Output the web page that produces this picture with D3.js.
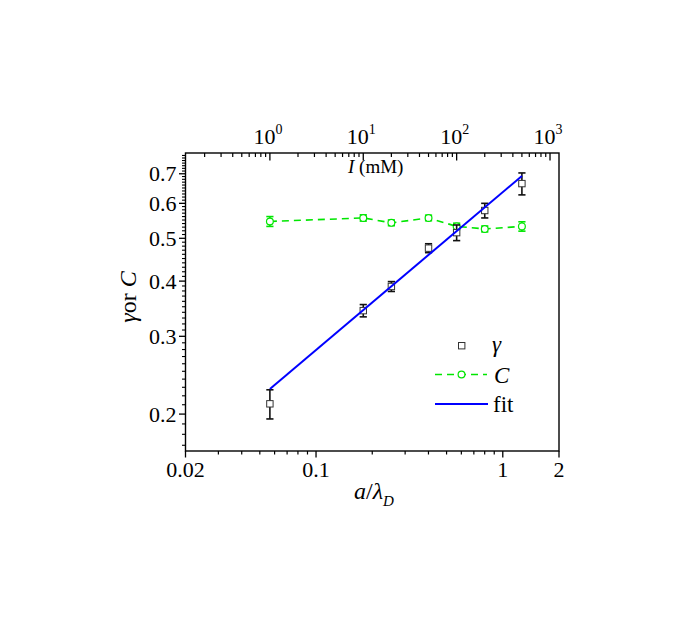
<!DOCTYPE html>
<html>
   <head>
      <script src="https://d3js.org/d3.v7.min.js"></script>
   </head>

   <style>
      body {
         margin: 0;
         background: white;
      }

      svg text {
         font-family: 'Liberation Serif', 'Times New Roman', serif;
         fill: black;
      }
   </style>
   <body>
      <svg id="chart" width="692" height="623"></svg>

      <script>
         // ionic strength (mM)
         let ionic = [1, 10, 20, 50, 100, 200, 500];
         let gammaVals = [0.211, 0.343, 0.389, 0.475, 0.515, 0.578, 0.665];
         let gammaErr = [0.016, 0.011, 0.010, 0.011, 0.021, 0.022, 0.038];
         let cVals = [0.546, 0.556, 0.542, 0.556, 0.532, 0.525, 0.532];
         let cErr = [0.014, 0.009, 0.008, 0.008, 0.009, 0.008, 0.013];

         // power law fit, end points
         let fitI = [1, 500];
         let fitVals = [0.228, 0.692];

         let bottomTicks = [0.02, 0.1, 1, 2];
         let topTicks = [1, 10, 100, 1000];
         let leftTicks = [0.2, 0.3, 0.4, 0.5, 0.6, 0.7];

         let xDomain = [0.02, 2];
         let yDomain = [0.165, 0.78];
         let kI = 312; // I (mM) = kI * (a/lambda_D)^2

         let pLeft = 185.5, pRight = 559, pTop = 153, pBottom = 451;
         let green = '#00e600';

         let svg = d3.select('#chart');

         let x = d3.scaleLog().domain(xDomain).range([pLeft, pRight]);
         let xTop = d3.scaleLog().domain(xDomain.map(d => kI * d * d)).range([pLeft, pRight]);
         let y = d3.scaleLog().domain(yDomain).range([pBottom, pTop]);

         // frame
         svg.append('rect')
            .attr('x', pLeft).attr('y', pTop)
            .attr('width', pRight - pLeft).attr('height', pBottom - pTop)
            .attr('fill', 'none').attr('stroke', '#000').attr('stroke-width', 1.4);

         // bottom axis, ticks outward
         let bottomMinor = [];
         [0.01, 0.1, 1].forEach(dec => d3.range(2, 10).forEach(m => {
            let v = dec * m;
            if (v > xDomain[0] && v < xDomain[1]) bottomMinor.push(v);
         }));
         svg.selectAll('.bminor').data(bottomMinor).enter().append('line')
            .attr('x1', d => x(d)).attr('x2', d => x(d))
            .attr('y1', pBottom).attr('y2', pBottom + 3.5)
            .attr('stroke', '#000').attr('stroke-width', 1.2);
         svg.selectAll('.bmajor').data(bottomTicks).enter().append('line')
            .attr('x1', d => x(d)).attr('x2', d => x(d))
            .attr('y1', pBottom).attr('y2', pBottom + 6.5)
            .attr('stroke', '#000').attr('stroke-width', 1.3);
         svg.selectAll('.blabel').data(bottomTicks).enter().append('text')
            .attr('x', d => x(d)).attr('y', pBottom + 26)
            .attr('text-anchor', 'middle').attr('font-size', 22)
            .text(d => d);

         // top axis (I in mM), ticks inward
         let topMinor = [];
         [0.1, 1, 10, 100].forEach(dec => d3.range(2, 10).forEach(m => {
            let v = dec * m;
            let d = xTop.domain();
            if (v > d[0] && v < d[1]) topMinor.push(v);
         }));
         svg.selectAll('.tminor').data(topMinor).enter().append('line')
            .attr('x1', d => xTop(d)).attr('x2', d => xTop(d))
            .attr('y1', pTop).attr('y2', pTop + 4)
            .attr('stroke', '#000').attr('stroke-width', 1.2);
         svg.selectAll('.tmajor').data(topTicks).enter().append('line')
            .attr('x1', d => xTop(d)).attr('x2', d => xTop(d))
            .attr('y1', pTop).attr('y2', pTop + 7.5)
            .attr('stroke', '#000').attr('stroke-width', 1.3);
         let tl = svg.selectAll('.tlabel').data(topTicks).enter().append('text')
            .attr('x', d => xTop(d) - 2).attr('y', pTop - 9)
            .attr('text-anchor', 'middle').attr('font-size', 22);
         tl.append('tspan').text('10');
         tl.append('tspan').attr('font-size', 14).attr('dy', -10)
            .text(d => Math.round(Math.log10(d)));

         svg.append('text')
            .attr('x', 348).attr('y', pTop + 20).attr('font-size', 19)
            .call(t => {
               t.append('tspan').attr('font-style', 'italic').text('I');
               t.append('tspan').text(' (mM)');
            });

         // left axis, ticks outward
         let leftMinor = d3.range(17, 79).map(d => d / 100)
            .filter(d => d > yDomain[0] && d < yDomain[1] && Math.round(d * 100) % 10 != 0);
         svg.selectAll('.lminor').data(leftMinor).enter().append('line')
            .attr('x1', pLeft).attr('x2', pLeft - 3.5)
            .attr('y1', d => y(d)).attr('y2', d => y(d))
            .attr('stroke', '#000').attr('stroke-width', 1.1);
         svg.selectAll('.lmajor').data(leftTicks).enter().append('line')
            .attr('x1', pLeft).attr('x2', pLeft - 6.5)
            .attr('y1', d => y(d)).attr('y2', d => y(d))
            .attr('stroke', '#000').attr('stroke-width', 1.3);
         svg.selectAll('.llabel').data(leftTicks).enter().append('text')
            .attr('x', pLeft - 9).attr('y', d => y(d) + 7.5)
            .attr('text-anchor', 'end').attr('font-size', 22)
            .text(d => d);

         // axis titles
         svg.append('text')
            .attr('x', 374).attr('y', 499).attr('font-size', 24)
            .attr('text-anchor', 'middle')
            .call(t => {
               t.append('tspan').attr('font-style', 'italic').text('a');
               t.append('tspan').text('/');
               t.append('tspan').attr('font-style', 'italic').text('λ');
               t.append('tspan').attr('font-style', 'italic').attr('font-size', 15).attr('dy', 7).text('D');
            });

         svg.append('text')
            .attr('transform', 'translate(136, 297) rotate(-90)')
            .attr('text-anchor', 'middle').attr('font-size', 24)
            .call(t => {
               t.append('tspan').attr('font-style', 'italic').text('γ');
               t.append('tspan').text('or ');
               t.append('tspan').attr('font-style', 'italic').text('C');
            });

         // C series: dashed line, error bars, open circles
         let cPts = ionic.map((d, i) => ({I: d, v: cVals[i], e: cErr[i]}));
         svg.append('path')
            .datum(cPts)
            .attr('d', d3.line().x(d => xTop(d.I)).y(d => y(d.v)))
            .attr('fill', 'none').attr('stroke', green)
            .attr('stroke-width', 1.6).attr('stroke-dasharray', '7,5');

         function errorBars(pts, color) {
            let g = svg.append('g').attr('stroke', color).attr('stroke-width', 1.6);
            g.selectAll('.bar').data(pts).enter().append('line')
               .attr('x1', d => xTop(d.I)).attr('x2', d => xTop(d.I))
               .attr('y1', d => y(d.v - d.e)).attr('y2', d => y(d.v + d.e));
            g.selectAll('.capLo').data(pts).enter().append('line')
               .attr('x1', d => xTop(d.I) - 3.6).attr('x2', d => xTop(d.I) + 3.6)
               .attr('y1', d => y(d.v - d.e)).attr('y2', d => y(d.v - d.e));
            g.selectAll('.capHi').data(pts).enter().append('line')
               .attr('x1', d => xTop(d.I) - 3.6).attr('x2', d => xTop(d.I) + 3.6)
               .attr('y1', d => y(d.v + d.e)).attr('y2', d => y(d.v + d.e));
         }

         errorBars(cPts, green);
         svg.selectAll('.cmark').data(cPts).enter().append('circle')
            .attr('cx', d => xTop(d.I)).attr('cy', d => y(d.v)).attr('r', 3.4)
            .attr('fill', 'white').attr('stroke', green).attr('stroke-width', 1.2);

         // gamma series
         let gPts = ionic.map((d, i) => ({I: d, v: gammaVals[i], e: gammaErr[i]}));
         errorBars(gPts, '#111');
         svg.selectAll('.gmark').data(gPts).enter().append('rect')
            .attr('x', d => xTop(d.I) - 3.2).attr('y', d => y(d.v) - 3.2)
            .attr('width', 6.4).attr('height', 6.4)
            .attr('fill', 'white').attr('stroke', '#333').attr('stroke-width', 1);

         // fit line
         svg.append('path')
            .datum(fitI.map((d, i) => ({I: d, v: fitVals[i]})))
            .attr('d', d3.line().x(d => xTop(d.I)).y(d => y(d.v)))
            .attr('fill', 'none').attr('stroke', '#0000ff').attr('stroke-width', 2);

         // legend
         let lg = svg.append('g');
         lg.append('rect')
            .attr('x', 458.5).attr('y', 342.5).attr('width', 6.4).attr('height', 6.4)
            .attr('fill', 'white').attr('stroke', '#333').attr('stroke-width', 1);
         lg.append('text').attr('x', 492).attr('y', 352).attr('font-size', 23)
            .attr('font-style', 'italic').text('γ');

         lg.append('line')
            .attr('x1', 435).attr('x2', 487).attr('y1', 374.5).attr('y2', 374.5)
            .attr('stroke', green).attr('stroke-width', 1.6).attr('stroke-dasharray', '7,5');
         lg.append('circle')
            .attr('cx', 461.5).attr('cy', 374.5).attr('r', 3.4)
            .attr('fill', 'white').attr('stroke', green).attr('stroke-width', 1.2);
         lg.append('text').attr('x', 494).attr('y', 383).attr('font-size', 23)
            .attr('font-style', 'italic').text('C');

         lg.append('line')
            .attr('x1', 435).attr('x2', 488).attr('y1', 404).attr('y2', 404)
            .attr('stroke', '#0000ff').attr('stroke-width', 2);
         lg.append('text').attr('x', 493).attr('y', 411.5).attr('font-size', 23)
            .text('fit');
      </script>
   </body>
</html>
